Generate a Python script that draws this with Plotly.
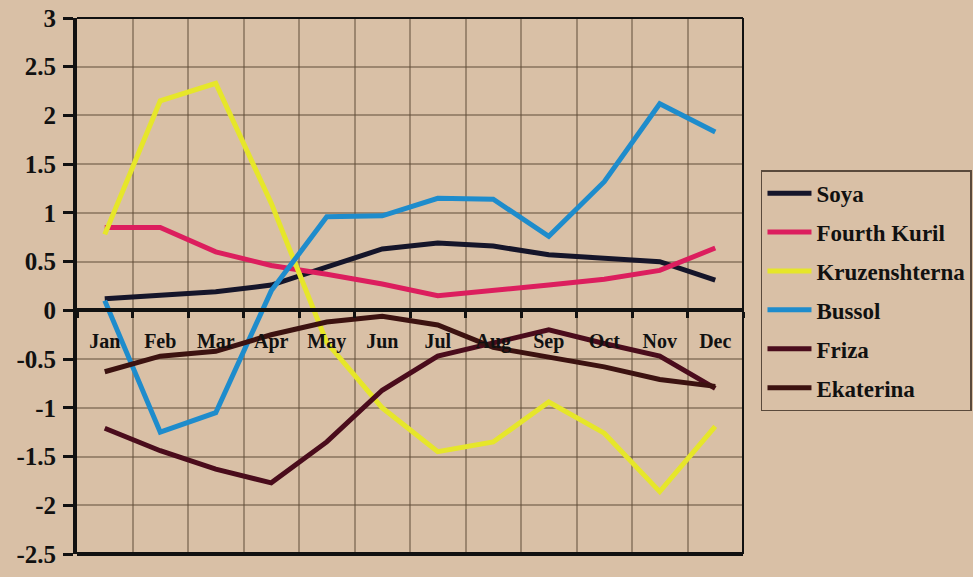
import plotly.graph_objects as go

months = ["Jan", "Feb", "Mar", "Apr", "May", "Jun",
          "Jul", "Aug", "Sep", "Oct", "Nov", "Dec"]

soya = [0.12, 0.15, 0.19, 0.26, 0.45, 0.63, 0.69, 0.66, 0.57, 0.54, 0.50, 0.31]
fourth_kuril = [0.85, 0.85, 0.60, 0.46, 0.37, 0.27, 0.15, 0.20, 0.26, 0.32, 0.41, 0.64]
kruzenshterna = [0.78, 2.15, 2.33, 1.10, -0.33, -1.00, -1.45, -1.35, -0.94, -1.26, -1.86, -1.19]
bussol = [0.10, -1.25, -1.05, 0.20, 0.96, 0.97, 1.15, 1.14, 0.76, 1.32, 2.12, 1.83]
friza = [-1.21, -1.44, -1.63, -1.77, -1.35, -0.82, -0.47, -0.33, -0.20, -0.34, -0.47, -0.80]
ekaterina = [-0.63, -0.47, -0.42, -0.25, -0.12, -0.06, -0.15, -0.38, -0.48, -0.58, -0.71, -0.78]

series_names = ["Soya", "Fourth Kuril", "Kruzenshterna", "Bussol", "Friza", "Ekaterina"]
series_values = [soya, fourth_kuril, kruzenshterna, bussol, friza, ekaterina]
series_colors = ["#15152a", "#dc1e5e", "#e6e62a", "#1e8ccc", "#4a0c1c", "#3c1210"]

y_tick_vals = [3, 2.5, 2, 1.5, 1, 0.5, 0, -0.5, -1, -1.5, -2, -2.5]
y_tick_text = ["3", "2.5", "2", "1.5", "1", "0.5", "0", "-0.5", "-1", "-1.5", "-2", "-2.5"]

Y_MIN, Y_MAX = -2.5, 3
BG = "#d9c0a6"
GRID = "rgba(95,75,55,0.5)"
INK = "#111111"
FONT = "'Liberation Serif', 'Times New Roman', Times, serif"

fig = go.Figure()
for name, vals, col in zip(series_names, series_values, series_colors):
    fig.add_trace(go.Scatter(
        x=months, y=vals, name=name, mode="lines",
        line=dict(color=col, width=5),
        legendgroup=name,
    ))

fig.update_layout(
    width=973, height=577,
    margin=dict(l=77, r=230, t=18, b=23, autoexpand=False),
    paper_bgcolor=BG, plot_bgcolor=BG,
    font=dict(family=FONT, color=INK, size=20, weight="bold"),
    showlegend=True,
    legend=dict(
        x=1.027, y=0.716, xanchor="left", yanchor="top",
        bgcolor="rgba(0,0,0,0)", bordercolor="#5a4a3c", borderwidth=1.5,
        font=dict(family=FONT, size=23, color=INK, weight="bold"),
        tracegroupgap=6, itemwidth=44,
    ),
    xaxis=dict(
        type="category", categoryorder="array", categoryarray=months,
        range=[-0.5, len(months) - 0.5],
        anchor="free", position=(0 - Y_MIN) / (Y_MAX - Y_MIN),
        showline=True, linecolor=INK, linewidth=4,
        tickson="boundaries", ticks="outside", ticklen=6, tickwidth=3, tickcolor=INK,
        showgrid=True, gridcolor=GRID, gridwidth=1.5,
        tickfont=dict(family=FONT, size=20, color=INK, weight="bold"),
        ticklabelstandoff=12,
        zeroline=False,
    ),
    yaxis=dict(
        range=[Y_MIN, Y_MAX],
        tickvals=y_tick_vals, ticktext=y_tick_text,
        showline=True, linecolor=INK, linewidth=4,
        ticks="outside", ticklen=10, tickwidth=3, tickcolor=INK,
        showgrid=True, gridcolor=GRID, gridwidth=1.5,
        tickfont=dict(family=FONT, size=25, color=INK, weight="bold"),
        ticklabelstandoff=2,
        zeroline=False,
    ),
    shapes=[
        dict(type="line", xref="paper", yref="paper", x0=0, x1=1, y0=1, y1=1,
             line=dict(color=INK, width=2), layer="above"),
        dict(type="line", xref="paper", yref="paper", x0=1, x1=1, y0=0, y1=1,
             line=dict(color=INK, width=2), layer="above"),
        dict(type="line", xref="paper", yref="paper", x0=0, x1=1, y0=0, y1=0,
             line=dict(color=INK, width=4), layer="above"),
    ],
)

fig.write_html("out.html")
